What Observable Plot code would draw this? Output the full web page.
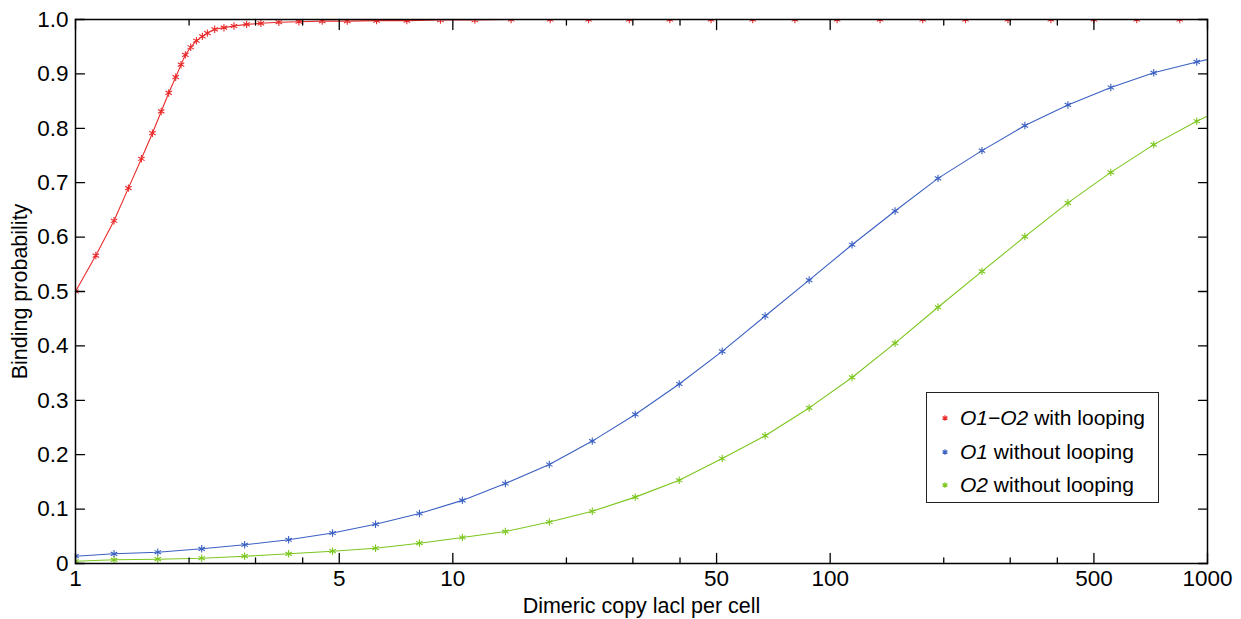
<!DOCTYPE html>
<html><head><meta charset="utf-8">
<script src="https://cdn.jsdelivr.net/npm/d3@7"></script>
<script src="https://cdn.jsdelivr.net/npm/@observablehq/plot@0.6"></script>
<style>
body{margin:0;background:#fff;}
#wrap{position:relative;width:1241px;height:619px;font-family:"Liberation Sans",Arial,sans-serif;}
#legend{position:absolute;left:926px;top:392px;width:233px;height:111px;box-sizing:border-box;border:1.5px solid #222;background:#fff;padding-top:8px;}
.row{height:33.5px;line-height:33.5px;font-size:21px;white-space:nowrap;position:relative;color:#000;}
.row svg{position:absolute;left:13px;top:12px;}
.row .t{position:absolute;left:33px;}
</style></head>
<body><div id="wrap"></div>
<script>
// O1-O2 with looping
const xLoop = [1, 1.132, 1.265, 1.381, 1.495, 1.599, 1.687, 1.766, 1.843, 1.904, 1.955, 2.020, 2.091, 2.169, 2.236, 2.338, 2.474, 2.630, 2.841, 3.100, 3.459, 3.908, 4.508, 5.250, 6.278, 7.553, 9.272, 11.44, 14.27, 18.11, 22.90, 29.36, 37.59, 48.33, 62.35, 80.66, 104.3, 135.6, 175.9, 228.3, 295.9, 384.6, 499.8, 649.5, 844.1];
const yLoop = [0.500, 0.566, 0.630, 0.690, 0.744, 0.791, 0.831, 0.865, 0.894, 0.917, 0.935, 0.949, 0.961, 0.969, 0.975, 0.982, 0.985, 0.988, 0.991, 0.993, 0.995, 0.996, 0.997, 0.997, 0.998, 0.998, 0.999, 0.999, 1, 1, 1, 1, 1, 1, 1, 1, 1, 1, 1, 1, 1, 1, 1, 1, 1];
// O1 / O2 without looping
const xNo = [1, 1.265, 1.652, 2.160, 2.807, 3.671, 4.800, 6.240, 8.157, 10.60, 13.78, 18.02, 23.42, 30.44, 39.81, 51.74, 67.25, 87.96, 114.3, 148.6, 193.1, 252.5, 328.1, 426.6, 554.3, 720.2, 936.3, 1217];
const yO1 = [0.0134, 0.0178, 0.0207, 0.0270, 0.0344, 0.0436, 0.056, 0.0722, 0.0919, 0.116, 0.147, 0.182, 0.225, 0.274, 0.330, 0.390, 0.455, 0.521, 0.586, 0.648, 0.708, 0.759, 0.805, 0.843, 0.875, 0.902, 0.922, 0.940];
const yO2 = [0.0042, 0.0068, 0.0079, 0.0097, 0.0134, 0.0178, 0.0226, 0.0281, 0.0373, 0.0478, 0.0588, 0.0763, 0.0960, 0.122, 0.153, 0.193, 0.235, 0.286, 0.342, 0.405, 0.471, 0.537, 0.601, 0.663, 0.719, 0.770, 0.813, 0.850];

const seriesItalic = ["O1\u2212O2", "O1", "O2"];
const seriesRest = [" with looping", " without looping", " without looping"];
const seriesColors = ["#ea2a2a", "#3b60c2", "#7cc61e"];

const xTicksMajor = [1, 5, 10, 50, 100, 500, 1000];
const xTicksMinor = [2, 3, 4, 20, 30, 40, 200, 300, 400];
const yTicks = [0, 0.1, 0.2, 0.3, 0.4, 0.5, 0.6, 0.7, 0.8, 0.9, 1.0];
const xLabel = "Dimeric copy lacl per cell";
const yLabel = "Binding probability";

const loop = xLoop.map((x, i) => ({x, y: yLoop[i]}));
const o1 = xNo.map((x, i) => ({x, y: yO1[i]}));
const o2 = xNo.map((x, i) => ({x, y: yO2[i]}));
const series = [loop, o1, o2];

const tickShape = {draw(ctx, l) { ctx.moveTo(0, 0); ctx.lineTo(0, -l); }};
const tk = (data, opts) => Plot.vector(data, {anchor: "start", shape: tickShape, stroke: "black", strokeWidth: 1.3, ...opts});

const marks = [];
series.forEach((s, i) => {
  marks.push(Plot.line(s, {x: "x", y: "y", stroke: seriesColors[i], strokeWidth: 1.1, clip: true}));
  marks.push(Plot.dot(s, {x: "x", y: "y", symbol: "asterisk", r: 3.5, stroke: seriesColors[i], strokeWidth: 1.1, clip: true}));
});

const chart = Plot.plot({
  width: 1241, height: 619,
  marginLeft: 75, marginRight: 34, marginTop: 19, marginBottom: 56,
  style: {fontFamily: "Liberation Sans, Arial, sans-serif", fontSize: "22px", background: "white", color: "black"},
  x: {type: "log", domain: [1, 1000], axis: null},
  y: {domain: [0, 1], axis: null},
  marks: [
    ...marks,
    tk(xTicksMajor, {x: d => d, y: 0, length: 10, rotate: 0}),
    tk(xTicksMinor, {x: d => d, y: 0, length: 5.5, rotate: 0}),
    tk(xTicksMajor, {x: d => d, y: 1, length: 10, rotate: 180}),
    tk(xTicksMinor, {x: d => d, y: 1, length: 5.5, rotate: 180}),
    tk(yTicks, {x: 1, y: d => d, length: 9, rotate: 90}),
    tk(yTicks, {x: 1000, y: d => d, length: 9, rotate: -90}),
    Plot.frame({stroke: "black", strokeWidth: 1.5}),
    Plot.text(xTicksMajor, {x: d => d, text: d => String(d), frameAnchor: "bottom", dy: 15, lineAnchor: "middle", textAnchor: "middle", fontSize: 22.5}),
    Plot.text(yTicks, {y: d => d, text: d => d === 0 ? "0" : d.toFixed(1), frameAnchor: "left", dx: -7, lineAnchor: "middle", textAnchor: "end", fontSize: 22.5}),
    Plot.text([xLabel], {text: d => d, frameAnchor: "bottom", dy: 43, lineAnchor: "middle", textAnchor: "middle", fontSize: 21.5}),
    Plot.text([yLabel], {text: d => d, frameAnchor: "left", dx: -55, rotate: -90, lineAnchor: "middle", textAnchor: "middle", fontSize: 21.5})
  ]
});

const wrap = document.getElementById("wrap");
wrap.appendChild(chart);

// legend
const legend = document.createElement("div");
legend.id = "legend";
const sym = d3.symbol().type(d3.symbolAsterisk).size(Math.PI * 2.6 * 2.6)();
seriesItalic.forEach((name, i) => {
  const row = document.createElement("div");
  row.className = "row";
  row.innerHTML = `<svg width="10" height="10" viewBox="-5 -5 10 10"><path d="${sym}" fill="none" stroke="${seriesColors[i]}" stroke-width="1.2"/></svg><span class="t"><i>${name}</i>${seriesRest[i]}</span>`;
  legend.appendChild(row);
});
wrap.appendChild(legend);
</script>
</body></html>
